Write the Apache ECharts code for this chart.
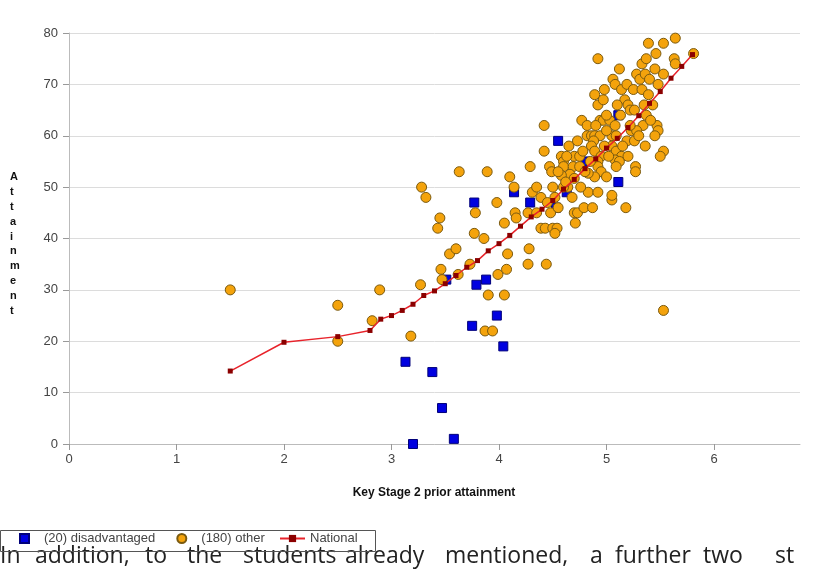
<!DOCTYPE html>
<html><head><meta charset="utf-8">
<script src="https://cdn.jsdelivr.net/npm/echarts@6/dist/echarts.min.js"></script>
<style>html,body{margin:0;padding:0;background:#fff}#c{width:815px;height:570px}</style>
</head><body><div id="c"></div>
<script>
const xTicks = [0, 1, 2, 3, 4, 5, 6];
const seriesNames = ['(20) disadvantaged', '(180) other', 'National'];
const disadvantaged = [
  [3.2,0],[3.58,1],[3.47,7],[3.38,14],[3.13,16],[4.04,19],[3.75,23],[3.98,25],[3.79,31],[3.51,32],
  [3.88,32],[3.77,47],[4.29,47],[4.53,46],[4.14,49],[4.63,49],[4.55,59],[5.11,64],[5.11,51],[4.81,55]
];
const other = [
  [1.5,30],[2.5,27],[2.5,20],[2.82,24],[2.89,30],[3.18,21],[3.27,31],[3.46,34],[3.47,32],[3.62,33],[3.87,22],[3.94,22],[3.9,29],[4.05,29],[5.53,26],
  [3.28,50],[3.32,48],[3.45,44],[3.43,42],[3.63,53],[3.89,53],
  [3.54,37],[3.6,38],[3.73,35],[3.77,41],[3.86,40],[3.78,45],[3.98,47],[3.99,33],[4.07,34],[4.08,37],[4.05,43],[4.28,38],[4.27,35],[4.44,35],
  [4.1,52],[4.14,50],[4.15,45],[4.16,44],[4.27,45],[4.35,45],[4.48,45],[4.31,49],[4.39,48],
  [4.29,54],[4.42,62],[4.42,57],[4.47,54],[4.49,53],[4.39,42],[4.43,42],[4.5,42],[4.54,42],[4.52,41],
  [4.52,48],[4.58,56],[4.6,55],[4.6,54],[4.69,54],[4.7,56],[4.75,56],[4.73,59],[4.65,58],[4.66,52.5],[4.64,50],[4.6,50],[4.7,51.7],[4.58,52.3],
  [4.7,45],[4.73,45],[4.79,46],[4.87,46],[4.71,43],[5.05,47.5],[5.18,46],[5.05,48.4],[4.83,49],[4.92,49],
  [4.77,63],[4.82,62],[4.82,60],[4.86,60],[4.89,60],[4.94,60],[5.05,60],[4.88,59],[4.86,58],[4.89,57],[4.95,56],[4.92,55],[4.92,54],[4.95,53],[4.89,52],[4.83,52.7],[4.75,54],
  [4.94,63],[4.97,63],[5.03,63],[5.08,62],[5.09,60],[5.05,58],[5.09,57],[5.14,56],[5.08,55.3],[5.12,55],[5.09,54],[5.2,56],[5.19,59],[5.26,59],[5.23,61],[5.34,62],[5.28,61],[5.37,64],[5.47,62],[5.48,61],[5.45,60],[5.53,57],[5.5,56],[5.36,58],[5.27,54],[5.27,53],
  [4.89,68],[4.92,66],[4.97,67],[4.92,75],[5.06,71],[5.08,70],[5.14,69],[5.19,70],[5.17,67],[5.2,66],[5.22,65],[5.25,69],[5.28,72],[5.31,71],[5.36,72],[5.4,71],[5.33,69],[5.39,68],[5.33,74],[5.37,75],[5.46,76],[5.39,78],[5.53,78],[5.64,79],[5.63,75],[5.64,74],[5.53,72],[5.48,70],[5.81,76],[5.26,65],
  [4.98,58],[5.0,61],[5.02,56],[5.15,58],[5.13,64],[4.85,55],[4.78,57],[4.63,56],[4.55,53],[4.62,51],[5.0,52],[5.3,60],[5.41,63],[5.43,66],[5.35,66],[5.1,66],[5.0,64],[4.9,62],[4.68,48],[4.76,50],[4.55,46],[4.35,50],[4.45,47],[5.12,73],[5.45,73],[4.98,69],[5.22,62],[4.8,53],[4.5,50]
];
const nationalX = [1.5,2.0,2.5,2.8,2.9,3.0,3.1,3.2,3.3,3.4,3.5,3.6,3.7,3.8,3.9,4.0,4.1,4.2,4.3,4.4,4.5,4.6,4.7,4.8,4.9,5.0,5.1,5.2,5.3,5.4,5.5,5.6,5.7,5.8];
const nationalY = [14.2,19.8,20.9,22.1,24.3,25.0,26.0,27.2,28.9,29.8,31.2,32.8,34.4,35.7,37.6,39.0,40.6,42.4,44.2,45.7,47.4,49.6,51.5,53.6,55.5,57.6,59.5,61.6,63.9,66.3,68.6,71.2,73.5,75.8];
const xTitle = 'Key Stage 2 prior attainment';
const yTitle = 'Attainment';
const paragraphWords = ['In', 'addition,', 'to', 'the', 'students', 'already', 'mentioned,', 'a', 'further', 'two', 'st'];
const paragraphX = [0, 35, 145, 187, 243, 345, 445, 590, 615, 703, 775];

const chart = echarts.init(document.getElementById('c'), null, {renderer: 'canvas'});
const FONT = "'Liberation Sans', Arial, sans-serif";
const graphics = [
  {type: 'text', left: 10, top: 170, style: {text: yTitle.split('').join('\n'), font: "bold 11px " + FONT, lineHeight: 14.8, fill: '#111', align: 'center'}},
  {type: 'text', x: 434, y: 493, style: {text: xTitle, font: "bold 12px " + FONT, fill: '#111', align: 'center', verticalAlign: 'middle'}},
  {type: 'rect', shape: {x: 0.5, y: 530.5, width: 375, height: 21}, style: {fill: 'none', stroke: '#555', lineWidth: 1}, z: 100}
];
paragraphWords.forEach((w, i) => {
  graphics.push({type: 'text', x: paragraphX[i], y: 556, style: {text: w, font: "23px 'Open Sans', sans-serif", fill: '#222', verticalAlign: 'middle'}, z: 90});
});
const legendText = {fontSize: 13, color: '#444', fontFamily: FONT, padding: [0, 0, 0, 10]};

chart.setOption({
  animation: false,
  backgroundColor: '#fff',
  grid: {left: 69, right: 15, top: 33, bottom: 126, containLabel: false},
  legend: [
    {left: 19, top: 532, itemWidth: 9, itemHeight: 9, itemGap: 21, padding: 0,
     textStyle: legendText, data: [seriesNames[0], seriesNames[1]]},
    {left: 279, top: 532, itemWidth: 25, itemHeight: 9, padding: 0,
     textStyle: {fontSize: 13, color: '#444', fontFamily: FONT}, data: [seriesNames[2]]}
  ],
  xAxis: {
    type: 'value', min: 0, max: 6.8, interval: 1,
    axisLine: {show: true, lineStyle: {color: '#bbb'}},
    axisTick: {show: true, length: 6, lineStyle: {color: '#999'}, customValues: xTicks},
    axisLabel: {fontSize: 13, color: '#444', margin: 9, fontFamily: FONT, customValues: xTicks},
    splitLine: {show: false}
  },
  yAxis: {
    type: 'value', min: 0, max: 80, interval: 10,
    axisLine: {show: true, lineStyle: {color: '#bbb'}},
    axisTick: {show: true, length: 6, lineStyle: {color: '#999'}},
    axisLabel: {fontSize: 13, color: '#444', margin: 11, fontFamily: FONT},
    splitLine: {show: true, lineStyle: {color: '#dcdcdc'}}
  },
  graphic: graphics,
  series: [
    {name: seriesNames[0], type: 'scatter', symbol: 'rect', symbolSize: 9, z: 2,
     itemStyle: {color: '#0000e0', borderColor: '#00007a', borderWidth: 1, opacity: 1},
     data: disadvantaged},
    {name: seriesNames[1], type: 'scatter', symbol: 'circle', symbolSize: 10, z: 3,
     itemStyle: {color: '#f4a30c', borderColor: '#7a5a10', borderWidth: 1, opacity: 1},
     data: other},
    {name: seriesNames[2], type: 'line', symbol: 'rect', symbolSize: 5, showAllSymbol: true, z: 4,
     lineStyle: {color: '#e8232b', width: 1.5},
     itemStyle: {color: '#8b0000', borderWidth: 0},
     data: nationalX.map((x, i) => [x, nationalY[i]])}
  ]
});
</script>
</body></html>
